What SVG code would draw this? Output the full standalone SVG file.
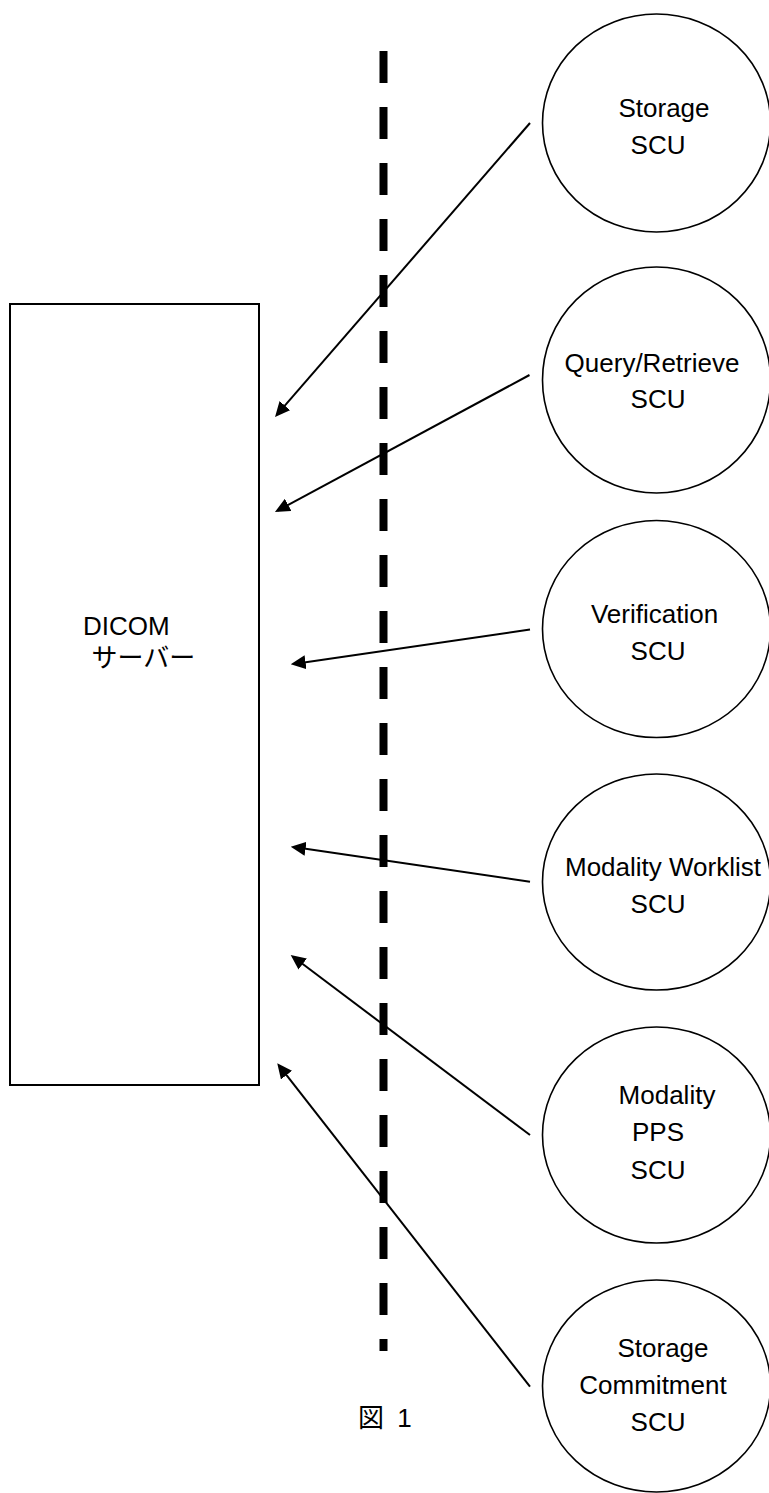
<svg xmlns="http://www.w3.org/2000/svg" width="769" height="1493" viewBox="0 0 769 1493">
<defs>
<marker id="ah" markerUnits="userSpaceOnUse" markerWidth="15" markerHeight="14" viewBox="0 0 15 14" refX="12" refY="7" orient="auto"><path d="M0,0 L15,7 L0,14 z" fill="#000"/></marker>
</defs>
<style>
.node ellipse{fill:#fff;stroke:#000;stroke-width:1.6}
.node rect{fill:#fff;stroke:#000;stroke-width:2}
.lbl{font-family:"Liberation Sans",Arial,"Noto Sans CJK JP",sans-serif;font-size:26px;fill:#000;text-anchor:middle}
.lbl.s{text-anchor:start}
.conn line{stroke:#000;stroke-width:2;marker-end:url(#ah)}
.sep{stroke:#000;stroke-width:8;stroke-dasharray:32 24}
</style>
<rect width="769" height="1493" fill="#fff"/>
<line class="sep" x1="383.5" y1="51" x2="383.5" y2="1351"/>
<g id="server" class="node">
<rect x="10" y="304" width="249" height="781"/>
<text class="lbl s" x="83" y="635">DICOM</text>
<text class="lbl s" x="91.5" y="667">サーバー</text>
</g>
<g id="storage-scu" class="node">
<ellipse cx="656.5" cy="123" rx="114" ry="109"/>
<text class="lbl" x="664" y="117">Storage</text>
<text class="lbl" x="658" y="154">SCU</text>
</g>
<g id="qr-scu" class="node">
<ellipse cx="656.5" cy="380" rx="114" ry="113"/>
<text class="lbl" x="652" y="372">Query/Retrieve</text>
<text class="lbl" x="658" y="408">SCU</text>
</g>
<g id="verification-scu" class="node">
<ellipse cx="656.5" cy="629" rx="114" ry="108.5"/>
<text class="lbl" x="654.5" y="623">Verification</text>
<text class="lbl" x="658" y="660">SCU</text>
</g>
<g id="mwl-scu" class="node">
<ellipse cx="656.5" cy="882" rx="114" ry="108"/>
<text class="lbl" x="663" y="876">Modality Worklist</text>
<text class="lbl" x="658" y="913">SCU</text>
</g>
<g id="mpps-scu" class="node">
<ellipse cx="656.5" cy="1135" rx="114" ry="108"/>
<text class="lbl" x="667" y="1104">Modality</text>
<text class="lbl" x="658" y="1141">PPS</text>
<text class="lbl" x="658" y="1179">SCU</text>
</g>
<g id="stgcmt-scu" class="node">
<ellipse cx="656.5" cy="1386" rx="114" ry="106"/>
<text class="lbl" x="663" y="1357">Storage</text>
<text class="lbl" x="653" y="1394">Commitment</text>
<text class="lbl" x="658" y="1431">SCU</text>
</g>
<g id="caption">
<text class="lbl s" x="358" y="1427" style="word-spacing:6px">図 1</text>
</g>
<g id="connectors" class="conn">
<line x1="530" y1="123" x2="277" y2="414.7"/>
<line x1="529.5" y1="375" x2="277.6" y2="510.6"/>
<line x1="530" y1="629.5" x2="293.7" y2="663.9"/>
<line x1="530" y1="881.7" x2="293.7" y2="847.1"/>
<line x1="530" y1="1135" x2="293.1" y2="956.8"/>
<line x1="530" y1="1386.7" x2="279.1" y2="1065.7"/>
</g>
</svg>
